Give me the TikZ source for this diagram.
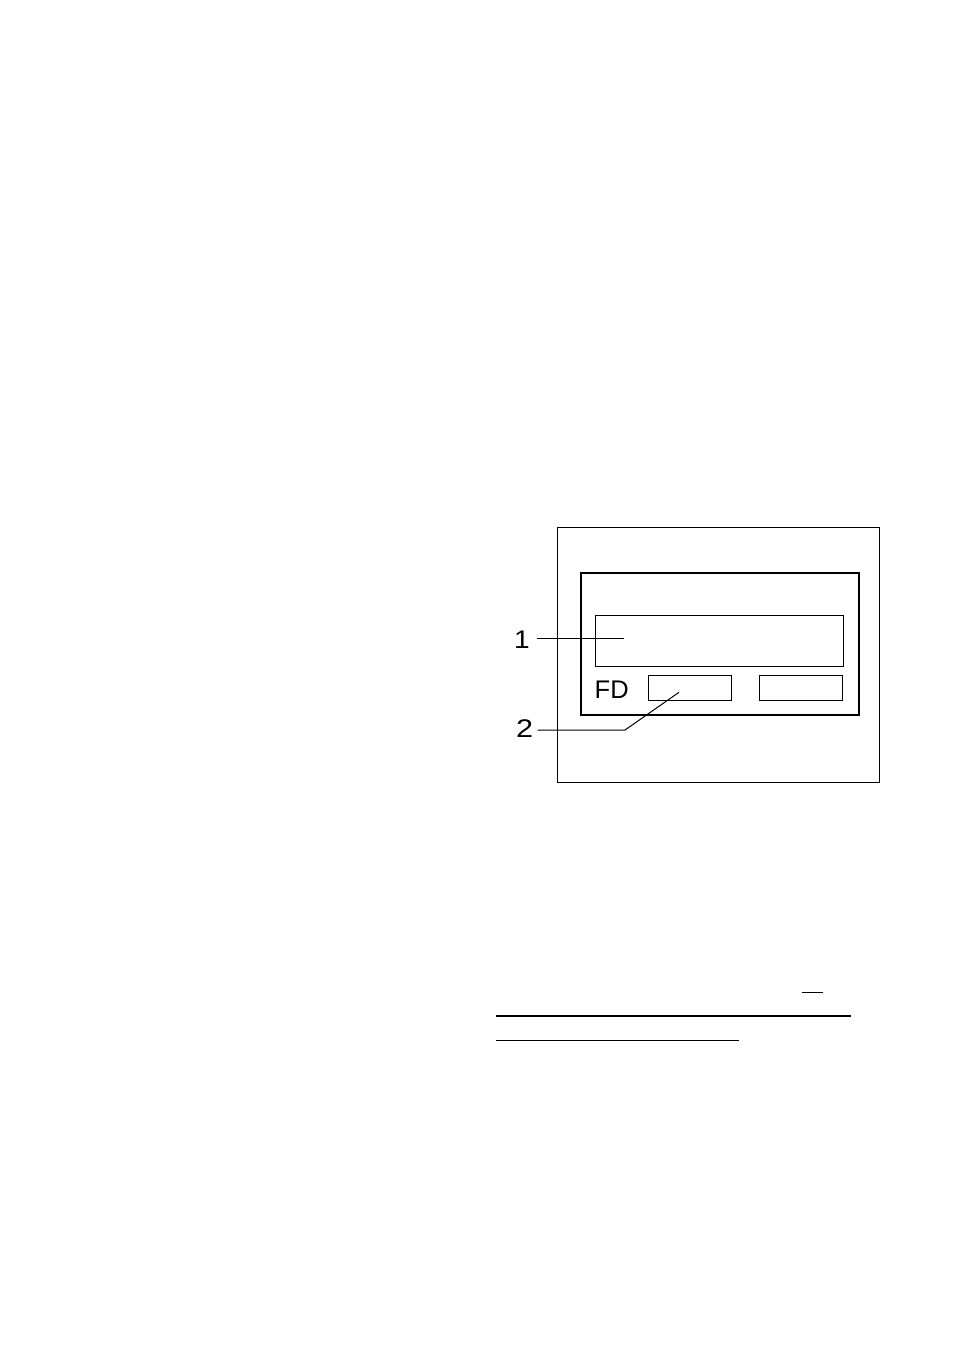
\documentclass[tikz,border=0pt]{standalone}
\usepackage{fontspec}
\setmainfont{Liberation Sans}
\begin{document}
\begin{tikzpicture}[x=1pt,y=-1pt,
  thinbox/.style={draw,line width=1pt,inner sep=0pt,anchor=north west},
  thickbox/.style={draw,line width=2.4pt,inner sep=0pt,anchor=north west},
  lbl/.style={font=\fontsize{25.5}{27}\selectfont,inner sep=0pt},
  leader/.style={line width=1pt},
  rule/.style={line width=1.4pt}]
\useasboundingbox (0,0) rectangle (954,1351);
\node[thinbox,minimum width=322pt,minimum height=255pt] (outer) at (557,527) {};
\node[thickbox,minimum width=278pt,minimum height=142pt] (panel) at (579.5,572) {};
\node[thinbox,minimum width=248pt,minimum height=51pt] (display) at (594.5,614.5) {};
\node[thinbox,minimum width=83.5pt,minimum height=25pt] (fd1) at (647.5,675) {};
\node[thinbox,minimum width=83.5pt,minimum height=25pt] (fd2) at (758.5,675) {};
\node[lbl,anchor=west] (fd) at (594.5,689.5) {FD};
\node[lbl,anchor=east,xscale=1.1] (l1) at (530,640) {1};
\node[lbl,anchor=east,xscale=1.2] (l2) at (533.5,728.5) {2};
\coordinate (s1) at (536.7,638.3);
\coordinate (p1) at (623.5,638.3);
\coordinate (s2) at (537.5,730);
\coordinate (k2) at (625,730);
\coordinate (p2) at (679,692.3);
\draw[leader] (s1) -- (p1);
\draw[leader] (s2) -- (k2) -- (p2);
\coordinate (r1a) at (801.5,992.3);
\coordinate (r1b) at (822.7,992.3);
\coordinate (r2a) at (496,1016);
\coordinate (r2b) at (851,1016);
\coordinate (r3a) at (496,1040.3);
\coordinate (r3b) at (739,1040.3);
\draw[rule] (r1a) -- (r1b);
\draw[rule] (r2a) -- (r2b);
\draw[rule] (r3a) -- (r3b);
\end{tikzpicture}
\end{document}
